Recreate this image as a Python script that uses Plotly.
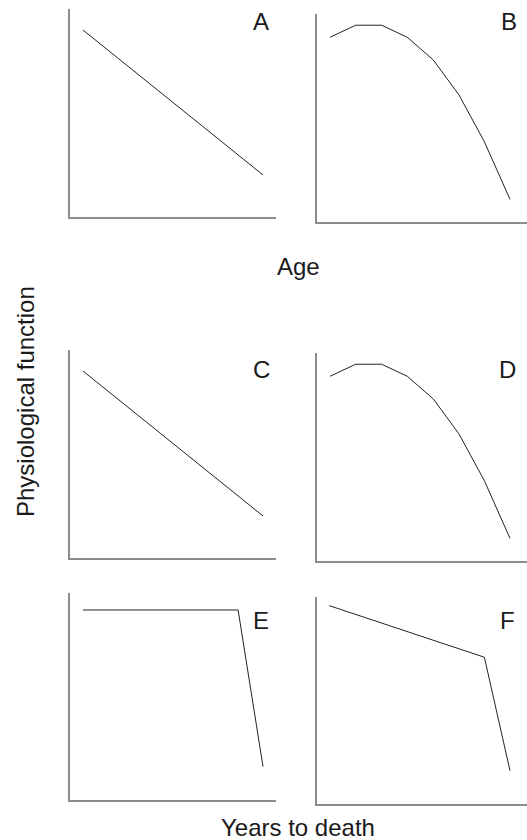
import plotly.graph_objects as go

W, H = 527, 840

# curve values, in percent of each panel's axis span
linear_x = [6.3, 93.7]
linear_y = [89.9, 20.2]

curve_x = [6.2, 18.4, 30.8, 43.0, 55.4, 67.6, 79.7, 91.9]
curve_y = [88.8, 94.6, 94.6, 88.8, 77.9, 61.1, 38.6, 10.9]

plateau_x = [6.3, 81.6, 93.7]
plateau_y = [91.8, 91.8, 16.1]

twostage_x = [5.9, 79.7, 91.9]
twostage_y = [95.8, 70.9, 16.1]

panel_labels = ['A', 'B', 'C', 'D', 'E', 'F']
series = [
    (linear_x, linear_y),
    (curve_x, curve_y),
    (linear_x, linear_y),
    (curve_x, curve_y),
    (plateau_x, plateau_y),
    (twostage_x, twostage_y),
]

# panel boxes in pixels: left, right, top, bottom
boxes = [
    (70, 276, 9, 217),
    (317, 527, 14, 222),
    (70, 276, 350, 558),
    (317, 527, 353, 561),
    (70, 276, 593, 800),
    (317, 527, 597, 804),
]
label_pos = [(261, 21), (509, 21), (261, 369), (507, 369), (261, 620), (507, 620)]

FONT = 'Liberation Sans, Arial, sans-serif'
AXIS_COLOR = '#8c8c8c'
TEXT_COLOR = '#1a1a1a'

fig = go.Figure()
layout = {}
for i, ((xs, ys), (l, r, t, b)) in enumerate(zip(series, boxes)):
    n = '' if i == 0 else str(i + 1)
    fig.add_trace(go.Scatter(
        x=xs, y=ys, mode='lines',
        line=dict(color='#222222', width=1),
        xaxis='x' + n, yaxis='y' + n,
        showlegend=False, hoverinfo='skip'
    ))
    axis_style = dict(
        range=[0, 100], showline=True, linecolor=AXIS_COLOR, linewidth=1.5,
        showgrid=False, zeroline=False, showticklabels=False, ticks='',
        fixedrange=True
    )
    layout['xaxis' + n] = dict(axis_style, domain=[l / W, r / W], anchor='y' + n)
    layout['yaxis' + n] = dict(axis_style, domain=[1 - b / H, 1 - t / H], anchor='x' + n)

annotations = []
for lab, (px, py) in zip(panel_labels, label_pos):
    annotations.append(dict(
        text=lab, x=px / W, y=1 - py / H, xref='paper', yref='paper',
        showarrow=False, xanchor='center', yanchor='middle',
        font=dict(family=FONT, size=24, color=TEXT_COLOR)
    ))

annotations += [
    dict(text='Age', x=298 / W, y=1 - 266 / H, xref='paper', yref='paper',
         showarrow=False, xanchor='center', yanchor='middle',
         font=dict(family=FONT, size=24, color=TEXT_COLOR)),
    dict(text='Years to death', x=298 / W, y=1 - 827 / H, xref='paper', yref='paper',
         showarrow=False, xanchor='center', yanchor='middle',
         font=dict(family=FONT, size=24, color=TEXT_COLOR)),
    dict(text='Physiological function', x=25 / W, y=1 - 402 / H, xref='paper', yref='paper',
         showarrow=False, xanchor='center', yanchor='middle', textangle=-90,
         font=dict(family=FONT, size=24, color=TEXT_COLOR)),
]

fig.update_layout(
    width=W, height=H,
    margin=dict(l=0, r=0, t=0, b=0),
    paper_bgcolor='white', plot_bgcolor='white',
    annotations=annotations,
    **layout
)

# drop the page's default body margin so the figure fills the window
fig.write_html(
    "out.html",
    config={'displayModeBar': False},
    post_script="document.body.style.margin='0';document.body.style.overflow='hidden';"
)
